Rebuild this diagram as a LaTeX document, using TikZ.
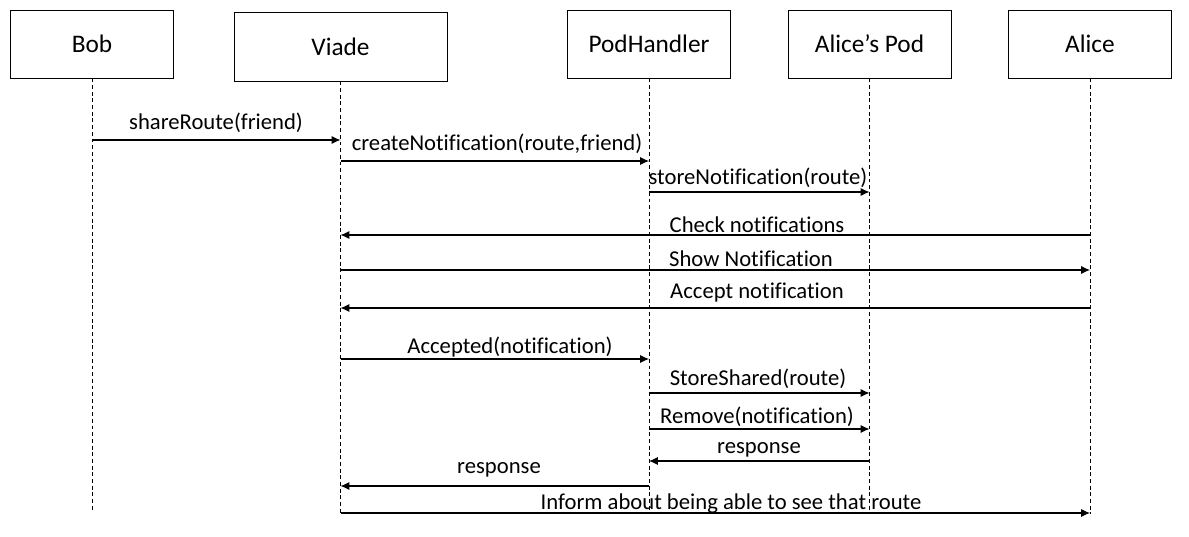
\documentclass[tikz,border=0pt]{standalone}
\usepackage{fontspec}
\setmainfont{Carlito}[Ligatures=NoCommon]
\usetikzlibrary{arrows.meta}

\tikzset{
  actor/.style={draw, line width=0.5pt, minimum width=3.26cm, minimum height=1.36cm,
    inner sep=0pt, font=\fontsize{14.4}{16}\selectfont},
  lifeline/.style={line width=0.5pt, dash pattern=on 2.2pt off 1.6pt},
  msg/.style={line width=0.6pt, -{Latex[length=5pt,width=4.6pt]}},
  lbl/.style={inner sep=0pt, font=\fontsize{12.9}{15}\selectfont}
}

% from, to, line y, label x, label y, text
\newcommand{\sendmsg}[6]{%
  \draw[msg] (#1 |- 0,#3) -- (#2 |- 0,#3);
  \node[lbl] at (#4,#5) {#6};}

\begin{document}
\begin{tikzpicture}[x=0.02cm,y=-0.02cm]
  \useasboundingbox (0,0) rectangle (1189,537);

  \node[actor] (bob) at (92,44) {Bob};
  \node[actor, minimum width=4.26cm, minimum height=1.38cm] (viade) at (340.5,46.5) {Viade};
  \node[actor] (pod) at (649,44) {PodHandler};
  \node[actor] (alicepod) at (869.5,44) {Alice’s Pod};
  \node[actor] (alice) at (1090,44) {Alice};

  \foreach \who/\bottom in {bob/510, viade/514, pod/510, alicepod/510, alice/514}
    \draw[lifeline] (\who.south) -- (\who.south |- 0,\bottom);

  \sendmsg{bob}{viade}{140}{216}{123}{shareRoute(friend)}
  \sendmsg{viade}{pod}{161}{497}{144}{createNotification(route,friend)}
  \sendmsg{pod}{alicepod}{192}{758}{178}{storeNotification(route)}
  \sendmsg{alice}{viade}{235}{757}{225}{Check notifications}
  \sendmsg{viade}{alice}{270}{751}{259}{Show Notification}
  \sendmsg{alice}{viade}{308}{757}{293}{Accept notification}
  \sendmsg{viade}{pod}{359}{510}{347}{Accepted(notification)}
  \sendmsg{pod}{alicepod}{393}{758}{379}{StoreShared(route)}
  \sendmsg{pod}{alicepod}{429}{757}{417}{Remove(notification)}
  \sendmsg{alicepod}{pod}{461}{759}{450}{response}
  \sendmsg{pod}{viade}{486}{499}{470}{response}
  \sendmsg{viade}{alice}{513}{731}{504}{Inform about being able to see that route}
\end{tikzpicture}
\end{document}
